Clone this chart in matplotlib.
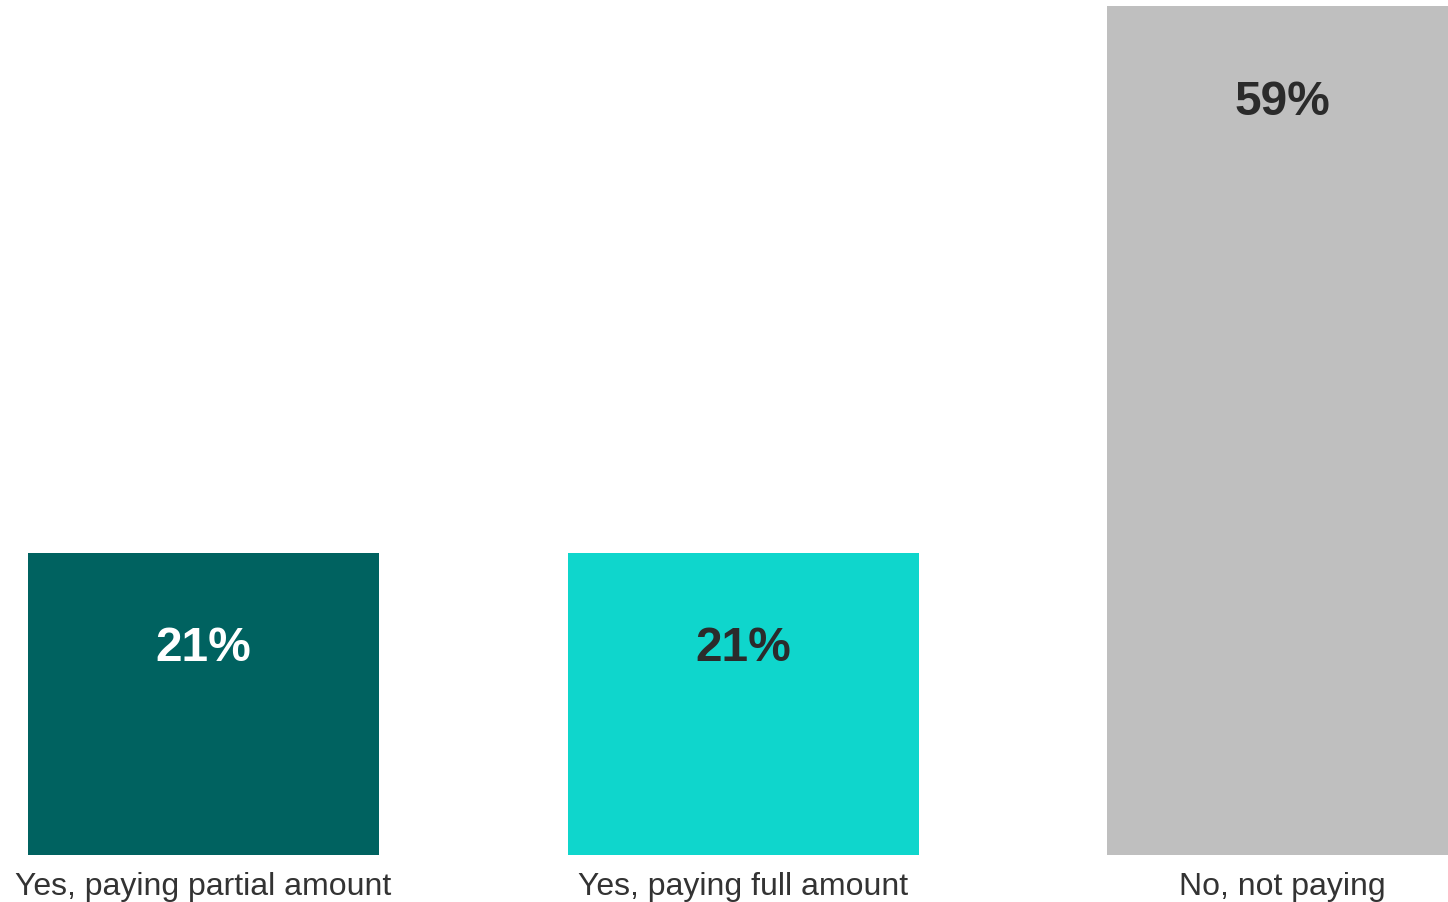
import matplotlib
matplotlib.use("Agg")
import matplotlib.pyplot as plt

categories = ["Yes, paying partial amount", "Yes, paying full amount", "No, not paying"]
values = [21, 21, 59]
bar_colors = ["#006260", "#0FD6CC", "#BFBFBF"]
label_colors = ["#FFFFFF", "#2B2B2B", "#2B2B2B"]

plt.rcParams["font.family"] = ["Liberation Sans", "DejaVu Sans"]

W, H = 1448, 902
fig = plt.figure(figsize=(W / 100, H / 100), dpi=100)
bottom_px = 855
ax = fig.add_axes([0, (H - bottom_px) / H, 1, bottom_px / H])

spacing_px = 539.5
first_center_px = 203.5
bar_w = 351 / spacing_px
ax.set_xlim(-first_center_px / spacing_px, (W - first_center_px) / spacing_px)
px_per_unit = 849 / 59
ax.set_ylim(0, bottom_px / px_per_unit)

x = list(range(len(categories)))
bars = ax.bar(x, values, width=bar_w, color=bar_colors, linewidth=0)

offset = 96 / px_per_unit
for xi, v, c in zip(x, values, label_colors):
    ax.text(xi, v - offset, f"{v}%", ha="center", va="center",
            fontsize=34.5, fontweight="bold", color=c)

for xi, cat in zip(x, categories):
    ax.text(xi, -32 / px_per_unit, cat, ha="center", va="center",
            fontsize=23, color="#333333", clip_on=False)

ax.axis("off")
fig.savefig("out.png", dpi=100)
